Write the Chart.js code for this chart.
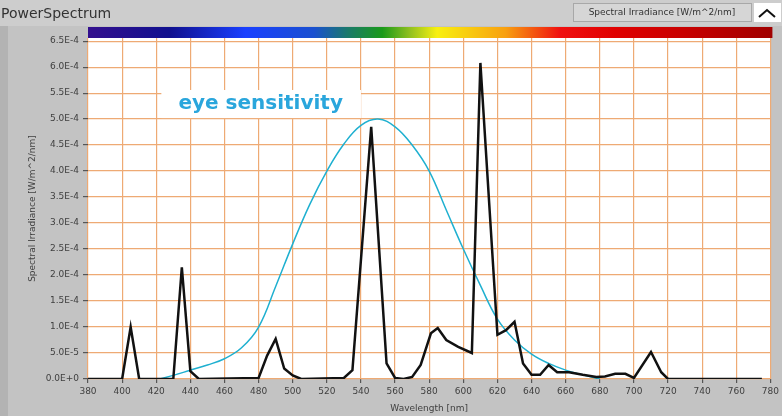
<!DOCTYPE html>
<html>
<head>
<meta charset="utf-8">
<script src="https://cdn.jsdelivr.net/npm/chart.js@4"></script>
<style>
  html, body { margin: 0; padding: 0; background: #c3c3c3; }
  canvas { display: block; }
</style>
</head>
<body>
<canvas id="spectrum" width="782" height="416"></canvas>
<script>
// measured lamp spectrum (wavelength nm -> W/m^2/nm)
const spectrumNm = [380, 400, 405, 410, 430, 435, 440, 445, 480, 485, 490, 495, 500, 505,
  530, 535, 546, 555, 560, 565, 570, 575, 581, 585, 590, 597, 605, 610, 620, 625, 630,
  635, 640, 645, 650, 655, 662, 670, 678, 683, 689, 695, 700, 710, 716, 720, 775];
const spectrumIrr = [0, 0, 1.0e-4, 0, 0, 2.15e-4, 0.15e-4, 0, 0.02e-4, 0.45e-4, 0.77e-4, 0.2e-4, 0.07e-4, 0,
  0.02e-4, 0.17e-4, 4.85e-4, 0.3e-4, 0.02e-4, 0, 0.04e-4, 0.27e-4, 0.88e-4, 0.98e-4, 0.75e-4, 0.62e-4, 0.5e-4, 6.08e-4, 0.85e-4, 0.94e-4, 1.1e-4,
  0.3e-4, 0.08e-4, 0.08e-4, 0.27e-4, 0.13e-4, 0.13e-4, 0.08e-4, 0.04e-4, 0.05e-4, 0.1e-4, 0.1e-4, 0.02e-4, 0.52e-4, 0.13e-4, 0, 0];

// photopic eye response, scaled onto the irradiance axis
const eyeNm = [422, 430, 440, 450, 460, 470, 480, 490, 500, 510, 520, 530, 540, 550,
  560, 570, 580, 590, 600, 610, 620, 630, 640, 650, 660, 670, 680];
const eyeIrr = [0, 0.07e-4, 0.17e-4, 0.27e-4, 0.39e-4, 0.6e-4, 1.0e-4, 1.78e-4, 2.6e-4, 3.36e-4, 4.0e-4, 4.52e-4, 4.88e-4, 5.0e-4,
  4.85e-4, 4.5e-4, 4.0e-4, 3.25e-4, 2.5e-4, 1.8e-4, 1.15e-4, 0.75e-4, 0.48e-4, 0.3e-4, 0.17e-4, 0.08e-4, 0];

const X_MIN = 380, X_MAX = 780, X_STEP = 20;
const Y_MAX = 6.56e-4, Y_STEP = 5e-5;

// rainbow strip above the plot
const rainbowStops = [
  [0.00, "#34108e"], [0.12, "#10108f"], [0.23, "#1a40ff"], [0.33, "#1a50d0"],
  [0.38, "#1a7a6a"], [0.43, "#1a9a1a"], [0.47, "#90c020"], [0.51, "#f8f010"],
  [0.61, "#f8a010"], [0.69, "#f01010"], [0.77, "#e00000"], [0.87, "#c80000"], [1.00, "#a00000"]
];

const eyeLabel = { text: "eye sensitivity", nmFrom: 423, nmTo: 540, top: 5.56e-4, bottom: 5.02e-4, textNm: 433 };

const GRID = "#eeaa74";

function sci(v) {
  if (Math.abs(v) < 1e-12) return "0.0E+0";
  let e = Math.floor(Math.log10(v) + 1e-9);
  let m = v / Math.pow(10, e);
  if (m >= 9.95) { m /= 10; e += 1; }
  return m.toFixed(1) + "E" + (e < 0 ? "-" : "+") + Math.abs(e);
}

const toPoints = (xs, ys) => xs.map((x, i) => ({ x: x, y: ys[i] }));

const panelPlugin = {
  id: "panel",
  beforeDraw(chart) {
    const { ctx, chartArea: a, width, height } = chart;
    ctx.save();
    ctx.fillStyle = "#c3c3c3";
    ctx.fillRect(0, 0, width, height);
    ctx.fillStyle = "#cdcdcd";
    ctx.fillRect(0, 0, width, 26);
    ctx.fillStyle = "#b3b3b3";
    ctx.fillRect(0, 26, 8, height - 26);
    ctx.fillStyle = "#ffffff";
    ctx.fillRect(a.left, a.top, a.right - a.left, a.bottom - a.top);

    const grad = ctx.createLinearGradient(a.left, 0, a.right + 2, 0);
    rainbowStops.forEach(([f, c]) => grad.addColorStop(f, c));
    ctx.fillStyle = grad;
    ctx.fillRect(a.left, 27, a.right + 2 - a.left, 11);
    ctx.restore();
  },
  beforeDatasetsDraw(chart) {
    const { ctx, scales: { x, y } } = chart;
    const left = x.getPixelForValue(eyeLabel.nmFrom);
    const right = x.getPixelForValue(eyeLabel.nmTo);
    const top = y.getPixelForValue(eyeLabel.top);
    const bottom = y.getPixelForValue(eyeLabel.bottom);
    ctx.save();
    ctx.fillStyle = "#ffffff";
    ctx.fillRect(left, top, right - left, bottom - top);
    ctx.fillStyle = "#2aa6dc";
    ctx.font = "bold 20px 'DejaVu Sans'";
    ctx.textBaseline = "middle";
    ctx.fillText(eyeLabel.text, x.getPixelForValue(eyeLabel.textNm), (top + bottom) / 2);
    ctx.restore();
  },
  afterDraw(chart) {
    const { ctx } = chart;
    ctx.save();
    // panel caption
    ctx.fillStyle = "#333333";
    ctx.font = "14px 'DejaVu Sans'";
    ctx.textBaseline = "middle";
    ctx.fillText("PowerSpectrum", 1, 14);

    // plot legend box
    ctx.fillStyle = "#d6d6d6";
    ctx.fillRect(573, 3, 179, 19);
    ctx.strokeStyle = "#a8a8a8";
    ctx.lineWidth = 1;
    ctx.strokeRect(573.5, 3.5, 178, 18);
    ctx.fillStyle = "#333333";
    ctx.font = "9px 'DejaVu Sans'";
    ctx.textAlign = "center";
    ctx.fillText("Spectral Irradiance [W/m^2/nm]", 662, 13);

    // collapse button
    ctx.fillStyle = "#ffffff";
    ctx.fillRect(754, 3, 27, 19);
    ctx.strokeStyle = "#111111";
    ctx.lineWidth = 2;
    ctx.beginPath();
    ctx.moveTo(759, 17);
    ctx.lineTo(767, 10);
    ctx.lineTo(775, 17);
    ctx.stroke();
    ctx.restore();
  }
};

new Chart(document.getElementById("spectrum"), {
  type: "line",
  data: {
    datasets: [
      {
        label: "Spectral Irradiance [W/m^2/nm]",
        data: toPoints(spectrumNm, spectrumIrr),
        borderColor: "#111111",
        borderWidth: 2.5,
        pointRadius: 0,
        tension: 0,
        order: 1,
      },
      {
        label: "eye sensitivity",
        data: toPoints(eyeNm, eyeIrr),
        borderColor: "#1fb0d0",
        borderWidth: 1.5,
        pointRadius: 0,
        tension: 0.4,
        order: 2,
      },
    ],
  },
  options: {
    responsive: false,
    animation: false,
    events: [],
    layout: { padding: { left: 0, top: 38, right: 9, bottom: 0 } },
    plugins: {
      legend: { display: false },
      tooltip: { enabled: false },
    },
    scales: {
      x: {
        type: "linear",
        min: X_MIN,
        max: X_MAX,
        border: { display: false },
        grid: { color: GRID, lineWidth: 1.2, tickColor: "#555555", tickLength: 4 },
        ticks: {
          stepSize: X_STEP,
          autoSkip: false,
          maxRotation: 0,
          padding: 3,
          color: "#404040",
          font: { family: "'DejaVu Sans'", size: 9 },
        },
        title: {
          display: true,
          text: "Wavelength [nm]",
          color: "#404040",
          font: { family: "'DejaVu Sans'", size: 9 },
          padding: { top: 0, bottom: 2 },
        },
        afterFit(scale) { scale.height = 37; },
      },
      y: {
        min: 0,
        max: Y_MAX,
        border: { display: false },
        grid: { color: GRID, lineWidth: 1.2, tickColor: "#555555", tickLength: 5 },
        ticks: {
          stepSize: Y_STEP,
          includeBounds: false,
          padding: 4,
          color: "#404040",
          font: { family: "'DejaVu Sans'", size: 9 },
          callback: (v) => sci(v),
        },
        title: {
          display: true,
          text: "Spectral Irradiance [W/m^2/nm]",
          color: "#404040",
          font: { family: "'DejaVu Sans'", size: 9 },
          padding: { top: 27, bottom: 0 },
        },
        afterFit(scale) { scale.width = 88; },
      },
    },
  },
  plugins: [panelPlugin],
});
</script>
</body>
</html>
